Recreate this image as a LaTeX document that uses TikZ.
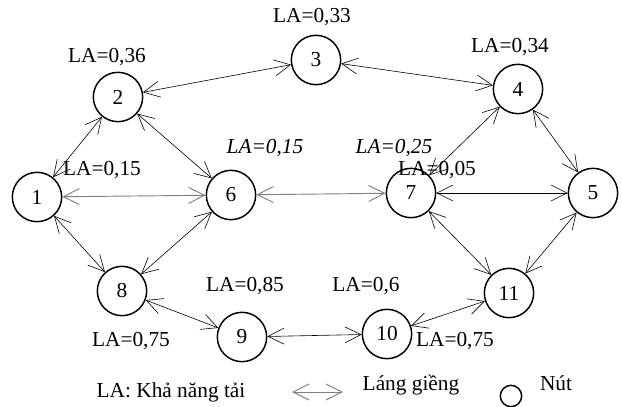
\documentclass[tikz,border=0pt]{standalone}
\usepackage{fontspec}
\setmainfont{Liberation Serif}
\usetikzlibrary{arrows.meta}

\tikzset{
	nut/.style={circle, draw, line width=1.1pt, minimum size=37pt, inner sep=0pt},
	lang/.style={draw, line width=0.45pt, {Straight Barb[length=12pt,width=12pt]}-{Straight Barb[length=12pt,width=12pt]}},
	langgrau/.style={lang, line width=0.7pt, black!50},
	la/.style={anchor=base}
}

\begin{document}
\begin{tikzpicture}[x=0.75pt, y=-0.75pt, font=\fontsize{16}{19}\selectfont]
\useasboundingbox (0,0) rectangle (622,407);
% nodes of the network
\foreach \i/\x/\y in {1/37/197, 2/118/97, 3/316/60, 4/518/89, 5/593/193,
	6/231/195, 7/411/193, 8/122/291, 9/242/337, 10/387/334, 11/509/293}
	\node[nut] (n\i) at (\x,\y) {\i};
% neighbour links
\foreach \a/\b in {1/2, 2/3, 2/6, 3/4, 4/7, 4/5, 7/5, 1/8, 6/8, 8/9,
	9/10, 10/11, 7/11, 11/5}
	\draw[lang] (n\a) -- (n\b);
\foreach \a/\b in {1/6, 6/7}
	\draw[langgrau] (n\a) -- (n\b);
% load values
\foreach \x/\y/\t in {312/22/{0,33}, 107/62/{0,36}, 510/52/{0,34}, 102/175/{0,15},
	437/175/{0,05}, 245/291/{0,85}, 366/291/{0,6}, 131/346/{0,75}, 455/346/{0,75}}
	\node[la] at (\x,\y) {LA=\t};
\node[la] at (265,153) {\itshape LA=0,15};
\node[la] at (394,153) {\itshape LA=0,25};
% legend
\node[la] at (171,397) {LA: Khả năng tải};
\coordinate (la) at (292,392);
\coordinate (lb) at (343,392);
\draw[langgrau] (la) -- (lb);
\node[la] at (411,390) {Láng giềng};
\node[circle, draw, line width=1.1pt, minimum size=16pt, inner sep=0pt] (nl) at (511,396) {};
\node[la] at (556,390) {Nút};
\end{tikzpicture}
\end{document}
